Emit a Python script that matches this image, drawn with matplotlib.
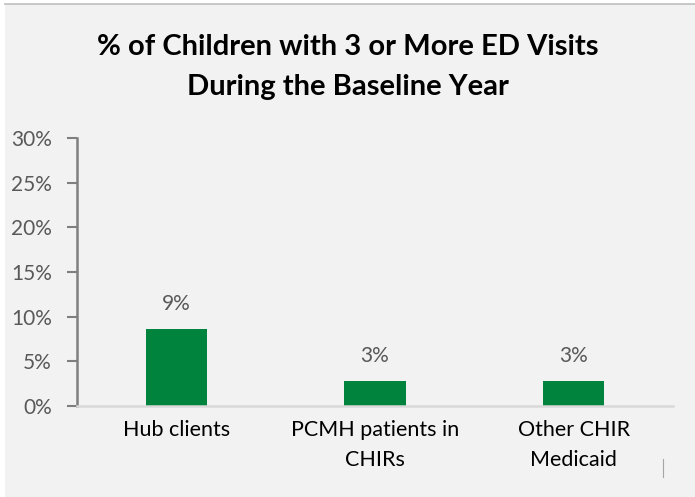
import matplotlib
matplotlib.use("Agg")
import matplotlib.pyplot as plt
from matplotlib.patches import Rectangle
from matplotlib.lines import Line2D
from matplotlib.ticker import FuncFormatter

# Chart data
categories = ["Hub clients", "PCMH patients in\nCHIRs", "Other CHIR\nMedicaid"]
values = [8.6, 2.8, 2.8]          # percent of children with 3+ ED visits
yticks = [0, 5, 10, 15, 20, 25, 30]
title = "% of Children with 3 or More ED Visits\nDuring the Baseline Year"

plt.rcParams["font.family"] = ["Lato", "DejaVu Sans"]

W, H = 695, 497
fig = plt.figure(figsize=(W / 100, H / 100), dpi=100, facecolor="white")

# Panel background with a thin border along the top
bg = Rectangle((5 / W, 0), 1 - 5 / W, 1 - 4 / H, transform=fig.transFigure,
               facecolor="#f2f2f2", edgecolor="none", zorder=-10)
fig.patches.append(bg)
fig.add_artist(Line2D([5 / W, 1], [1 - 4 / H, 1 - 4 / H], transform=fig.transFigure,
                      color="#bfbfbf", lw=1.2, zorder=-5))
fig.add_artist(Line2D([663 / W, 663 / W], [1 - 459 / H, 1 - 477 / H],
                      transform=fig.transFigure, color="#a6a6a6", lw=0.8, zorder=-5))

left, right = 77 / W, 673 / W
bottom, top = 1 - 406 / H, 1 - 138 / H
ax = fig.add_axes([left, bottom, right - left, top - bottom])
ax.set_facecolor("none")

x = list(range(len(categories)))
green = "#00843d"
ax.bar(x, values, width=0.31, color=green, zorder=2)
for xi, v in zip(x, values):
    ax.text(xi, v + 1.7, f"{v:.0f}%", ha="center", va="bottom",
            fontsize=15, color="#595959")

ax.set_xlim(-0.5, len(categories) - 0.5)
ax.set_ylim(0, 30)
ax.set_yticks(yticks)
ax.yaxis.set_major_formatter(FuncFormatter(lambda v, p: f"{v:.0f}%"))
ax.set_xticks(x)
ax.set_xticklabels(categories, fontsize=15.5, color="#000000", linespacing=1.62)
ax.tick_params(axis="x", length=0, pad=10)
ax.tick_params(axis="y", length=7, width=1.5, color="#7f7f7f",
               labelsize=15, labelcolor="#595959", pad=11)

for s in ("top", "right"):
    ax.spines[s].set_visible(False)
ax.spines["left"].set_color("#7f7f7f")
ax.spines["left"].set_linewidth(1.8)
ax.spines["bottom"].set_color("#d9d9d9")
ax.spines["bottom"].set_linewidth(1.8)

fig.text(0.5, 1 - 67 / H, title, ha="center", va="center", fontsize=21,
         fontweight="bold", color="#000000", linespacing=1.65)

fig.savefig("out.png", dpi=100, facecolor="white")
